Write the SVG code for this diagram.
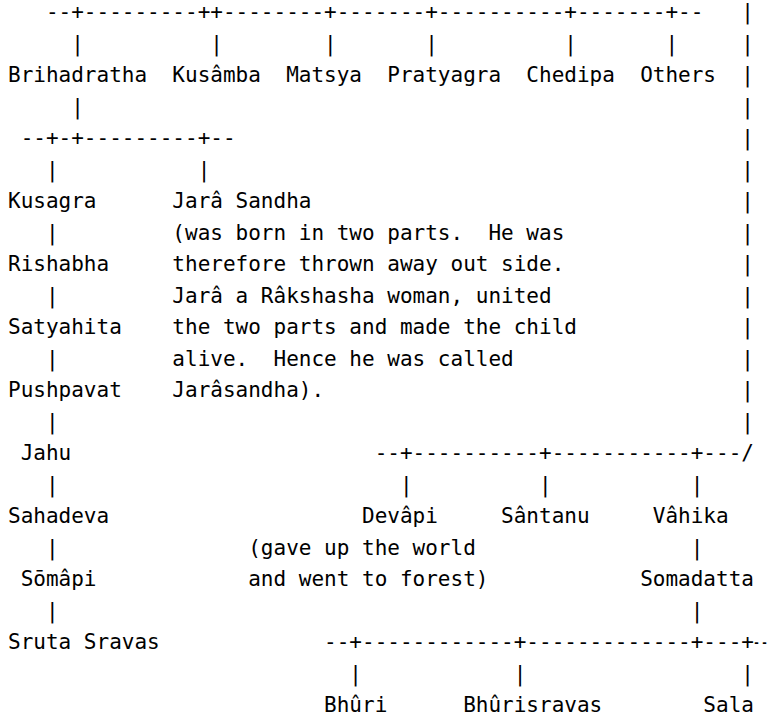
<svg xmlns="http://www.w3.org/2000/svg" width="774" height="726" viewBox="0 0 774 726" xml:space="preserve">
<style>
text{font-family:"DejaVu Sans Mono","Liberation Mono",monospace;font-size:21px;fill:#000;white-space:pre}
</style>
<rect width="774" height="726" fill="#fff"/>
<g id="connectors">
<text x="45.93" y="19">--+---------++--------+-------+----------+-------+--</text>
<text x="741.29" y="19">|</text>
<text x="71.21" y="50.5">|</text>
<text x="210.29" y="50.5">|</text>
<text x="324.07" y="50.5">|</text>
<text x="425.21" y="50.5">|</text>
<text x="564.29" y="50.5">|</text>
<text x="665.43" y="50.5">|</text>
<text x="741.29" y="50.5">|</text>
<text x="741.29" y="82">|</text>
<text x="71.21" y="113.5">|</text>
<text x="741.29" y="113.5">|</text>
<text x="20.64" y="145">--+-+---------+--</text>
<text x="741.29" y="145">|</text>
<text x="45.93" y="176.5">|</text>
<text x="197.64" y="176.5">|</text>
<text x="741.29" y="176.5">|</text>
<text x="741.29" y="208">|</text>
<text x="45.93" y="239.5">|</text>
<text x="741.29" y="239.5">|</text>
<text x="741.29" y="271">|</text>
<text x="45.93" y="302.5">|</text>
<text x="741.29" y="302.5">|</text>
<text x="741.29" y="334">|</text>
<text x="45.93" y="365.5">|</text>
<text x="741.29" y="365.5">|</text>
<text x="741.29" y="397">|</text>
<text x="45.93" y="428.5">|</text>
<text x="741.29" y="428.5">|</text>
<text x="374.64" y="460">--+----------+-----------+---/</text>
<text x="45.93" y="491.5">|</text>
<text x="399.93" y="491.5">|</text>
<text x="539.00" y="491.5">|</text>
<text x="690.71" y="491.5">|</text>
<text x="45.93" y="554.5">|</text>
<text x="690.71" y="554.5">|</text>
<text x="45.93" y="617.5">|</text>
<text x="690.71" y="617.5">|</text>
<text x="324.07" y="649">--+------------+-------------+---+</text>
<text x="752.5" y="649" textLength="16" lengthAdjust="spacingAndGlyphs">--</text>
<text x="349.36" y="680.5">|</text>
<text x="513.71" y="680.5">|</text>
<text x="741.29" y="680.5">|</text>
</g>
<g id="brihadratha"><text x="8" y="82">Brihadratha</text></g>
<g id="kusamba"><text x="172.36" y="82">Kusâmba</text></g>
<g id="matsya"><text x="286.14" y="82">Matsya</text></g>
<g id="pratyagra"><text x="387.29" y="82">Pratyagra</text></g>
<g id="chedipa"><text x="526.36" y="82">Chedipa</text></g>
<g id="others"><text x="640.14" y="82">Others</text></g>
<g id="kusagra"><text x="8" y="208">Kusagra</text></g>
<g id="jarasandha">
<text x="172.36" y="208">Jarâ Sandha</text>
<text x="172.36" y="239.5">(was born in two parts.  He was</text>
<text x="172.36" y="271">therefore thrown away out side.</text>
<text x="172.36" y="302.5">Jarâ a Râkshasha woman, united</text>
<text x="172.36" y="334">the two parts and made the child</text>
<text x="172.36" y="365.5">alive.  Hence he was called</text>
<text x="172.36" y="397">Jarâsandha).</text>
</g>
<g id="rishabha"><text x="8" y="271">Rishabha</text></g>
<g id="satyahita"><text x="8" y="334">Satyahita</text></g>
<g id="pushpavat"><text x="8" y="397">Pushpavat</text></g>
<g id="jahu"><text x="20.64" y="460">Jahu</text></g>
<g id="sahadeva"><text x="8" y="523">Sahadeva</text></g>
<g id="devapi">
<text x="362" y="523">Devâpi</text>
<text x="248.21" y="554.5">(gave up the world</text>
<text x="248.21" y="586">and went to forest)</text>
</g>
<g id="santanu"><text x="501.07" y="523">Sântanu</text></g>
<g id="vahika"><text x="652.79" y="523">Vâhika</text></g>
<g id="somapi"><text x="20.64" y="586">Sōmâpi</text></g>
<g id="somadatta"><text x="640.14" y="586">Somadatta</text></g>
<g id="srutasravas"><text x="8" y="649">Sruta Sravas</text></g>
<g id="bhuri"><text x="324.07" y="712">Bhûri</text></g>
<g id="bhurisravas"><text x="463.14" y="712">Bhûrisravas</text></g>
<g id="sala"><text x="703.36" y="712">Sala</text></g>
</svg>
